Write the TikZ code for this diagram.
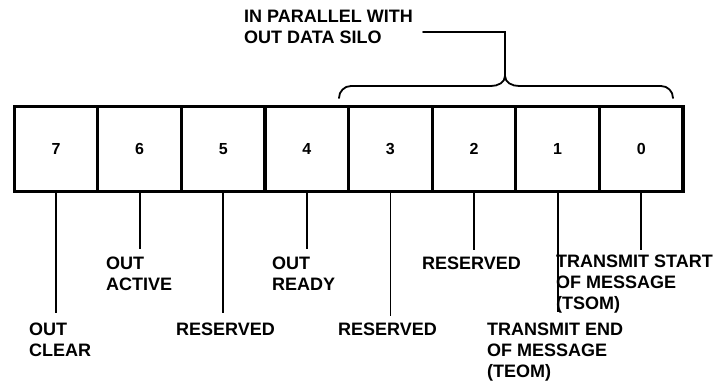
\documentclass[tikz,border=0pt]{standalone}
\usepackage{fontspec}
\setmainfont{Liberation Sans}
\usetikzlibrary{positioning}
\tikzset{
  cell/.style={draw, line width=1.6pt, minimum width=82pt, minimum height=84pt,
    inner sep=0pt, font=\bfseries\fontsize{16}{18}\selectfont},
  lbl/.style={anchor=north west, align=left, inner sep=0pt,
    font=\bfseries\fontsize{18}{21}\selectfont},
  leader/.style={line width=1.8pt},
  brace/.style={line width=1.8pt, line cap=round}
}
\begin{document}
\begin{tikzpicture}[x=1pt, y=1pt]
    \useasboundingbox (0,0) rectangle (718,383);
    % register cells
    \node[cell] (c7) at (56,234) {7};
    \node[cell, right=0pt of c7] (c6) {6};
    \node[cell, right=0pt of c6] (c5) {5};
    \node[cell, right=0pt of c5] (c4) {4};
    \node[cell, right=0pt of c4] (c3) {3};
    \node[cell, right=0pt of c3] (c2) {2};
    \node[cell, right=0pt of c2] (c1) {1};
    \node[cell, right=0pt of c1] (c0) {0};
    \draw[line width=3pt] (c7.north west) rectangle (c0.south east);
    % bit labels
    \node[lbl] (l7) at (29,60) {OUT\\CLEAR};
    \node[lbl] (l6) at (106,126) {OUT\\ACTIVE};
    \node[lbl] (l5) at (176,60) {RESERVED};
    \node[lbl] (l4) at (272,126) {OUT\\READY};
    \node[lbl] (l3) at (338,60) {RESERVED};
    \node[lbl] (l2) at (422,126) {RESERVED};
    \node[lbl] (l1) at (487,60) {TRANSMIT END\\OF MESSAGE\\(TEOM)};
    \node[lbl] (l0) at (556,128) {TRANSMIT START\\OF MESSAGE\\(TSOM)};
    \draw[leader, shorten >=10pt] (c7.south) -- (c7.south |- l7.north);
    \draw[leader, shorten >=8pt] (c6.south) -- (c6.south |- l6.north);
    \draw[leader, shorten >=10pt] (c5.south) -- (c5.south |- l5.north);
    \draw[leader, shorten >=8pt] (c4.south) -- (c4.south |- l4.north);
    \draw[leader, shorten >=7pt] (c3.south) -- (c3.south |- l3.north);
    \draw[leader, shorten >=7pt] (c2.south) -- (c2.south |- l2.north);
    \draw[leader, shorten >=11pt] (c1.south) -- (c1.south |- l1.north);
    \draw[leader, shorten >=5pt] (c0.south) -- (c0.south |- l0.north);
    % brace over bits 3..0
    \node[lbl] (silo) at (244,373) {IN PARALLEL WITH\\OUT DATA SILO};
    \coordinate (tip) at (505,307);
    \coordinate (silo end) at (423,351);
    \draw[brace]
        (339,285) to[out=90,in=180] (351,297) -- (491,297)
        to[out=0,in=-90] (tip)
        to[out=-90,in=180] (519,297) -- (661,297)
        to[out=0,in=90] (673,285);
    \draw[brace] (tip) |- (silo end);
\end{tikzpicture}
\end{document}
